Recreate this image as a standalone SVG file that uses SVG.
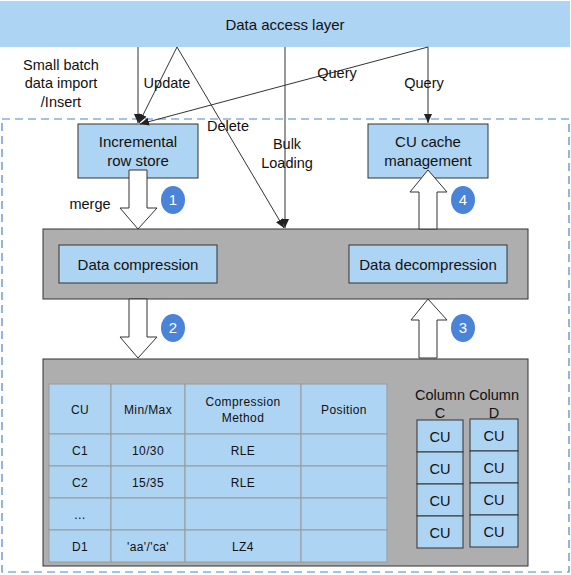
<svg xmlns="http://www.w3.org/2000/svg" width="571" height="575" viewBox="0 0 571 575">
<style>
text{font-family:"Liberation Sans",Arial,sans-serif;fill:#111;}
.lbl{font-size:14.5px;text-anchor:middle;}
.box{fill:#aed4f4;stroke:#333;stroke-width:1;}
.panel{fill:#aeaeae;stroke:#333;stroke-width:1;}
.cell{fill:#aed4f4;stroke:#999;stroke-width:1;}
.tt{font-size:12px;text-anchor:middle;letter-spacing:0.4px;}
.ln{stroke:#333;stroke-width:1;fill:none;marker-end:url(#ah);}
.hollow{fill:#fff;stroke:#333;stroke-width:1;}
.num{fill:#4a84d8;}
.numt{font-size:15px;fill:#fff;text-anchor:middle;}
</style>
<defs>
<marker id="ah" markerWidth="10" markerHeight="10" refX="9" refY="4" orient="auto" markerUnits="userSpaceOnUse">
<path d="M0,0 L9,4 L0,8 Z" fill="#222"/>
</marker>
</defs>
<rect width="571" height="575" fill="#fff"/>
<g id="dashed-frame"><rect x="2" y="119" width="567" height="453" fill="none" stroke="#4a84d8" stroke-width="1.2" stroke-dasharray="8,5"/></g>
<g id="data-access-layer"><rect x="0" y="1" width="570" height="46" fill="#aed4f4"/><text class="lbl" x="285" y="30" style="font-size:15px">Data access layer</text></g>
<g id="incremental"><rect class="box" x="78" y="124" width="120" height="54"/><text class="lbl" x="138" y="147" style="font-size:15px">Incremental</text><text class="lbl" x="138" y="166" style="font-size:15px">row store</text></g>
<g id="cu-cache"><rect class="box" x="368" y="124" width="120" height="54"/><text class="lbl" x="428" y="147" style="font-size:15px">CU cache</text><text class="lbl" x="428" y="166" style="font-size:15px">management</text></g>
<g id="connectors">
<line class="ln" x1="138" y1="47" x2="138" y2="123"/>
<line class="ln" x1="177" y1="47" x2="139" y2="123"/>
<line class="ln" x1="177" y1="47" x2="284" y2="228"/>
<line class="ln" x1="285" y1="47" x2="285" y2="228"/>
<line class="ln" x1="428" y1="47" x2="140" y2="124"/>
<line class="ln" x1="428" y1="47" x2="428" y2="123"/>
</g>
<g id="labels">
<text class="lbl" x="61" y="70">Small batch</text>
<text class="lbl" x="61" y="88">data import</text>
<text class="lbl" x="61" y="107">/Insert</text>
<text class="lbl" x="167" y="88">Update</text>
<text class="lbl" x="228" y="131">Delete</text>
<text class="lbl" x="287" y="149">Bulk</text>
<text class="lbl" x="287" y="168">Loading</text>
<text class="lbl" x="337" y="78">Query</text>
<text class="lbl" x="424" y="88">Query</text>
<text class="lbl" x="90" y="209">merge</text>
</g>
<g id="middle-panel"><rect class="panel" x="43" y="229" width="485" height="70"/>
<g id="compression"><rect class="box" x="59" y="245" width="158" height="38"/><text class="lbl" x="138" y="270" style="font-size:15px">Data compression</text></g>
<g id="decompression"><rect class="box" x="349" y="245" width="158" height="38"/><text class="lbl" x="428" y="270" style="font-size:15px">Data decompression</text></g>
</g>
<g id="bottom-panel"><rect class="panel" x="43" y="359" width="485" height="207"/>
<g id="table">
<rect class="cell" x="49" y="384" width="62" height="50"/><rect class="cell" x="111" y="384" width="74" height="50"/><rect class="cell" x="185" y="384" width="116" height="50"/><rect class="cell" x="301" y="384" width="86" height="50"/>
<rect class="cell" x="49" y="434" width="62" height="32"/><rect class="cell" x="111" y="434" width="74" height="32"/><rect class="cell" x="185" y="434" width="116" height="32"/><rect class="cell" x="301" y="434" width="86" height="32"/>
<rect class="cell" x="49" y="466" width="62" height="32"/><rect class="cell" x="111" y="466" width="74" height="32"/><rect class="cell" x="185" y="466" width="116" height="32"/><rect class="cell" x="301" y="466" width="86" height="32"/>
<rect class="cell" x="49" y="498" width="62" height="32"/><rect class="cell" x="111" y="498" width="74" height="32"/><rect class="cell" x="185" y="498" width="116" height="32"/><rect class="cell" x="301" y="498" width="86" height="32"/>
<rect class="cell" x="49" y="530" width="62" height="32"/><rect class="cell" x="111" y="530" width="74" height="32"/><rect class="cell" x="185" y="530" width="116" height="32"/><rect class="cell" x="301" y="530" width="86" height="32"/>
<text class="tt" x="80" y="414">CU</text><text class="tt" x="148" y="414">Min/Max</text><text class="tt" x="243" y="406">Compression</text><text class="tt" x="243" y="422">Method</text><text class="tt" x="344" y="414">Position</text>
<text class="tt" x="80" y="455">C1</text><text class="tt" x="148" y="455">10/30</text><text class="tt" x="243" y="455">RLE</text>
<text class="tt" x="80" y="487">C2</text><text class="tt" x="148" y="487">15/35</text><text class="tt" x="243" y="487">RLE</text>
<text class="tt" x="80" y="519">…</text>
<text class="tt" x="80" y="551">D1</text><text class="tt" x="148" y="551">'aa'/'ca'</text><text class="tt" x="243" y="551">LZ4</text>
</g>
<g id="column-c"><text class="lbl" x="440" y="400">Column</text><text class="lbl" x="440" y="418">C</text>
<rect class="box" x="417" y="420" width="46" height="32"/><rect class="box" x="417" y="452" width="46" height="32"/><rect class="box" x="417" y="484" width="46" height="32"/><rect class="box" x="417" y="516" width="46" height="32"/>
<text class="lbl" x="440" y="442">CU</text><text class="lbl" x="440" y="474">CU</text><text class="lbl" x="440" y="506">CU</text><text class="lbl" x="440" y="538">CU</text></g>
<g id="column-d"><text class="lbl" x="494" y="400">Column</text><text class="lbl" x="494" y="418">D</text>
<rect class="box" x="470" y="419" width="48" height="32"/><rect class="box" x="470" y="451" width="48" height="32"/><rect class="box" x="470" y="483" width="48" height="32"/><rect class="box" x="470" y="515" width="48" height="32"/>
<text class="lbl" x="494" y="441">CU</text><text class="lbl" x="494" y="473">CU</text><text class="lbl" x="494" y="505">CU</text><text class="lbl" x="494" y="537">CU</text></g>
</g>
<g id="flow-arrows">
<path class="hollow" d="M129,170 H147 V208 H157 L138,229 L120,208 H129 Z"/>
<path class="hollow" d="M129,299 H147 V337 H157 L138,358 L120,337 H129 Z"/>
<path class="hollow" d="M419,358 H437 V320 H447 L428,299 L411,320 H419 Z"/>
<path class="hollow" d="M419,229 H437 V192 H447 L428,170 L410,192 H419 Z"/>
</g>
<g id="step-numbers">
<ellipse class="num" cx="173" cy="200" rx="12" ry="14"/><text class="numt" x="173" y="205">1</text>
<ellipse class="num" cx="173" cy="328" rx="12" ry="14"/><text class="numt" x="173" y="333">2</text>
<ellipse class="num" cx="463" cy="328" rx="12" ry="14"/><text class="numt" x="463" y="333">3</text>
<ellipse class="num" cx="463" cy="200" rx="12" ry="14"/><text class="numt" x="463" y="205">4</text>
</g>
</svg>
